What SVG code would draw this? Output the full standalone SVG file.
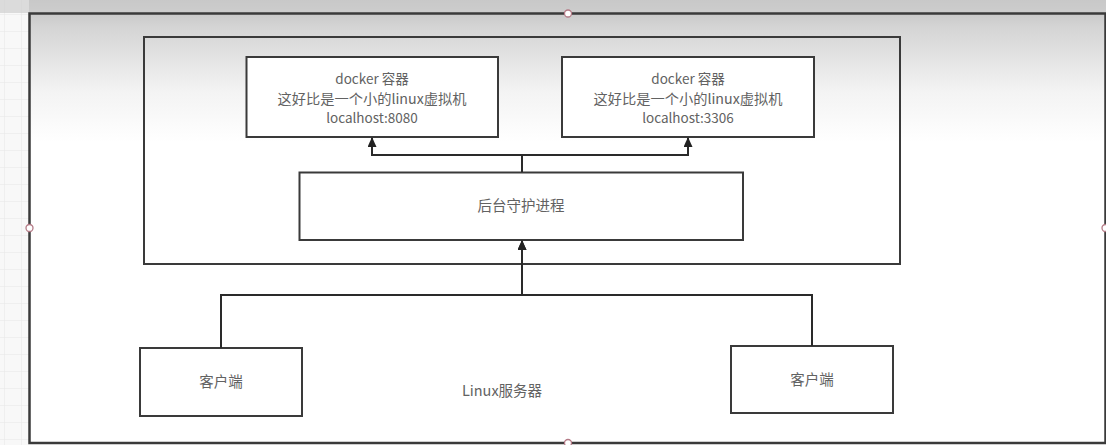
<svg xmlns="http://www.w3.org/2000/svg" width="1106" height="445" viewBox="0 0 1106 445">
<defs>
<linearGradient id="bg" x1="0" y1="0" x2="0" y2="1">
<stop offset="0" stop-color="#c9c9c9"/>
<stop offset="0.03" stop-color="#d4d4d4"/>
<stop offset="0.18" stop-color="#f3f3f3"/>
<stop offset="0.3" stop-color="#ffffff"/>
<stop offset="1" stop-color="#ffffff"/>
</linearGradient>
<pattern id="grid" width="17" height="17" patternUnits="userSpaceOnUse" x="4" y="-3">
<path d="M0 0 H17 M0 0 V17" fill="none" stroke="#e6e6e6" stroke-width="1"/>
</pattern>
<marker id="arr" viewBox="0 0 10 9" refX="9" refY="4.5" markerWidth="10" markerHeight="9" markerUnits="userSpaceOnUse" orient="auto">
<path d="M0 0 L10 4.5 L0 9 Z" fill="#222"/>
</marker>
<style>
.box{fill:#fff;stroke:#3a3a3a;stroke-width:2}
.t{font-family:'Noto Sans CJK SC','Noto Sans',sans-serif;font-size:14.5px;fill:#626262;text-anchor:middle}
.d{font-size:13.5px}
.c{fill:none;stroke:#2a2a2a;stroke-width:2}
.h{fill:#fff;stroke:#b47a86;stroke-width:1.3}
</style>
</defs>
<rect x="0" y="0" width="1106" height="445" fill="url(#bg)"/>
<rect x="0" y="0" width="29" height="445" fill="#f8f8f8"/>
<rect x="0" y="0" width="29" height="445" fill="url(#grid)"/>
<rect x="0" y="0" width="1106" height="13" fill="#c8c8c8" opacity="0.6"/>
<g id="server">
<rect x="29.5" y="13.5" width="1076" height="429.5" fill="url(#bg)" stroke="#3a3a3a" stroke-width="2.5"/>
<text class="t" x="502" y="396">Linux服务器</text>
</g>
<g id="host">
<rect x="144" y="37" width="756" height="227" fill="none" stroke="#3a3a3a" stroke-width="2"/>
</g>
<g id="docker1">
<rect class="box" x="246.5" y="57" width="251.5" height="80"/>
<text class="t d" x="372" y="84">docker 容器</text>
<text class="t" x="372" y="103.5" textLength="189" lengthAdjust="spacingAndGlyphs" style="font-size:13.5px">这好比是一个小的linux虚拟机</text>
<text class="t d" x="372" y="123">localhost:8080</text>
</g>
<g id="docker2">
<rect class="box" x="562" y="57" width="252" height="80"/>
<text class="t d" x="688" y="84">docker 容器</text>
<text class="t" x="688" y="103.5" textLength="189" lengthAdjust="spacingAndGlyphs" style="font-size:13.5px">这好比是一个小的linux虚拟机</text>
<text class="t d" x="688" y="123">localhost:3306</text>
</g>
<g id="daemon">
<rect class="box" x="299.5" y="172.5" width="443.5" height="67.5"/>
<text class="t" x="521" y="211">后台守护进程</text>
</g>
<g id="client1">
<rect class="box" x="140" y="348" width="162" height="68"/>
<text class="t" x="221" y="387">客户端</text>
</g>
<g id="client2">
<rect class="box" x="731" y="346" width="162" height="67"/>
<text class="t" x="812" y="385">客户端</text>
</g>
<g id="connectors">
<path class="c" d="M522 172 V155 H372 V138" marker-end="url(#arr)"/>
<path class="c" d="M522 172 V155 H688 V138" marker-end="url(#arr)"/>
<path class="c" d="M221 348 V295 H522 V241" marker-end="url(#arr)"/>
<path class="c" d="M812 346 V295 H522 V241" marker-end="url(#arr)"/>
</g>
<g id="handles">
<circle class="h" cx="568" cy="13.5" r="3.5"/>
<circle class="h" cx="29.5" cy="228" r="3.5"/>
<circle class="h" cx="568" cy="443" r="3.5"/>
<circle class="h" cx="1105.5" cy="228" r="3.5"/>
</g>
</svg>
